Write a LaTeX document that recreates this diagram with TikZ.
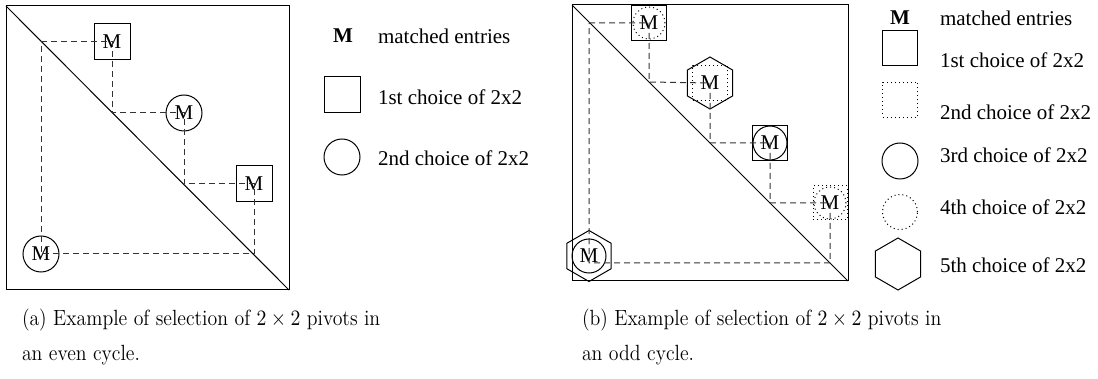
\documentclass[tikz,border=0pt]{standalone}
\usepackage{fontspec}
\newfontfamily\tms{Liberation Serif}
\usetikzlibrary{shapes.geometric}
\newcommand{\captext}[1]{\scalebox{0.9}[1]{#1}}
\tikzset{
  every node/.style={inner sep=0pt, outer sep=0pt},
  lbl/.style={font=\tms\fontsize{10.5}{12}\selectfont},
  lblbold/.style={font=\tms\bfseries\fontsize{10.5}{12}\selectfont},
  captxt/.style={font=\fontsize{11}{13}\selectfont, anchor=base west},
  lgd/.style={lbl, anchor=west},
  sqbox/.style={draw, rectangle, minimum size=18pt, line width=0.5pt},
  circbox/.style={draw, circle, minimum size=18pt, line width=0.5pt},
  hexbox/.style={draw, regular polygon, regular polygon sides=6, minimum size=26pt, shape border rotate=30, line width=0.5pt},
  dotted line/.style={dash pattern=on 0.5pt off 1.5pt},
  cyc/.style={dash pattern=on 3pt off 2pt, line width=0.5pt, black!80},
  outline/.style={line width=0.5pt}
}
\begin{document}
\begin{tikzpicture}[x=0.5pt, y=-0.5pt]
\useasboundingbox (0,0) rectangle (1098,379);
% ---------- (a) ----------
\draw[outline] (6,6) rectangle (289,290);
\draw[outline] (6,6) -- (289,290);
\coordinate (a0) at (41,42);
\coordinate (a1) at (112,113);
\coordinate (a2) at (184,184);
\coordinate (a3) at (254,254);
\node[sqbox, lbl] (A1) at (112,42) {M};
\node[circbox, lbl] (A2) at (184,113) {M};
\node[sqbox, lbl] (A3) at (254,184) {M};
\node[circbox, lbl] (A4) at (41,254) {M};
\draw[cyc] (a0) -- (A1.center) -- (a1) -- (A2.center) -- (a2) -- (A3.center) -- (a3) -- (A4.center) -- (a0);
% legend (a)
\node[lblbold] (La0) at (343,36) {M};
\node[lgd] (La0t) at (378,36) {matched entries};
\node[sqbox] (La1) at (342,95) {};
\node[lgd] (La1t) at (378,97) {1st choice of 2x2};
\node[circbox] (La2) at (342,157) {};
\node[lgd] (La2t) at (378,158) {2nd choice of 2x2};
% ---------- (b) ----------
\draw[outline] (572,5) rectangle (848,281);
\draw[outline] (572,5) -- (848,281);
\coordinate (b0) at (589,23);
\coordinate (b1) at (649,82);
\coordinate (b2) at (710,143);
\coordinate (b3) at (770,203);
\coordinate (b4) at (830,263);
\coordinate (b5) at (589,263);
\node[sqbox, minimum size=17.5pt, lbl] (B1) at (649,23) {M};
\node[circbox, dotted line, minimum size=16pt] (B1b) at (B1) {};
\node[hexbox, lbl] (B2) at (710,83) {M};
\node[sqbox, dotted line, minimum size=17.5pt] (B2b) at (B2) {};
\node[sqbox, minimum size=17.5pt, lbl] (B3) at (770,143) {M};
\node[circbox, minimum size=17pt] (B3b) at (B3) {};
\node[sqbox, dotted line, minimum size=17pt, lbl] (B4) at (830,203) {M};
\node[circbox, dotted line, minimum size=16pt] (B4b) at (B4) {};
\node[hexbox, minimum size=25.5pt, lbl] (B5) at (589,256) {M};
\node[circbox, minimum size=17pt] (B5b) at (B5) {};
\draw[cyc] (b0) -- (B1.center) -- (b1) -- (B2.center) -- (b2) -- (B3.center) -- (b3) -- (B4.center) -- (b4) -- (b5) -- (b0);
% legend (b)
\node[lblbold] (Lb0) at (900,18) {M};
\node[lgd] (Lb0t) at (940,18) {matched entries};
\node[sqbox, minimum size=17.5pt] (Lb1) at (900,48) {};
\node[lgd] (Lb1t) at (940,60) {1st choice of 2x2};
\node[sqbox, dotted line, minimum size=17.5pt] (Lb2) at (900,100) {};
\node[lgd] (Lb2t) at (940,112) {2nd choice of 2x2};
\node[circbox] (Lb3) at (900,161) {};
\node[lgd] (Lb3t) at (940,155) {3rd choice of 2x2};
\node[circbox, dotted line, minimum size=17.5pt] (Lb4) at (900,212) {};
\node[lgd] (Lb4t) at (940,207) {4th choice of 2x2};
\node[hexbox] (Lb5) at (898,264) {};
\node[lgd] (Lb5t) at (940,265) {5th choice of 2x2};
% ---------- captions ----------
\node[captxt] (ca1) at (22,326) {\captext{(a) Example of selection of $2\times2$ pivots in}};
\node[captxt] (ca2) at (22,360) {\captext{an even cycle.}};
\node[captxt] (cb1) at (582,326) {\captext{(b) Example of selection of $2\times2$ pivots in}};
\node[captxt] (cb2) at (582,360) {\captext{an odd cycle.}};
\end{tikzpicture}
\end{document}
